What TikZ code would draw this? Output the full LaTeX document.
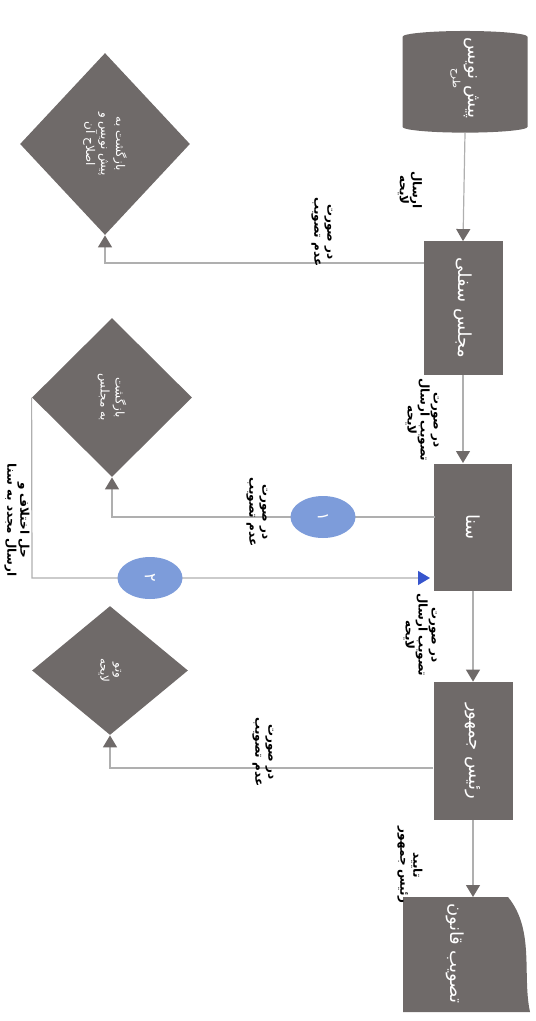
\documentclass[tikz,border=0pt]{standalone}
\usepackage{fontspec}
\usetikzlibrary{shapes,arrows.meta,positioning}
\newfontfamily\farsi[Script=Arabic]{DejaVu Sans}
\TeXXeTstate=1
\newcommand{\fa}[1]{{\farsi\beginR #1\endR}}
\definecolor{boxgray}{RGB}{111,106,105}
\definecolor{linegray}{RGB}{175,175,175}
\definecolor{ovalblue}{RGB}{125,156,218}
\definecolor{tipblue}{RGB}{55,85,205}
\tikzstyle{stage}=[rectangle,fill=boxgray,text=white,inner sep=1pt,font=\fontsize{9}{11}\selectfont]
\tikzstyle{store}=[cylinder,aspect=0.35,fill=boxgray,text=white,inner sep=1pt,align=center,font=\fontsize{9}{10}\selectfont]
\tikzstyle{check}=[diamond,fill=boxgray,text=white,inner sep=0pt,align=center,font=\fontsize{6}{7.5}\selectfont]
\tikzstyle{note}=[align=center,inner sep=0pt,font=\fontsize{6}{6.5}\selectfont\bfseries]
\tikzstyle{tag}=[ellipse,fill=ovalblue,text=white,inner sep=0pt,font=\fontsize{8}{8}\selectfont]
\tikzstyle{flow}=[draw=linegray,line width=0.6pt,-{Triangle[width=7pt,length=6pt,color=boxgray]}]
\tikzstyle{back}=[draw=linegray,line width=0.6pt,-{Triangle[width=7pt,length=6pt,color=tipblue]}]

\begin{document}
\begin{tikzpicture}[x=0.5pt,y=0.5pt,rotate=-90,transform shape]
  \useasboundingbox (0,0) rectangle (1021,535);

  % main line
  \node[store,minimum width=62.5pt,minimum height=50pt] (draft) at (78,465)
    {\fa{پیش نویس}\\[-2pt]{\fontsize{5}{5}\selectfont\fa{طرح}}};
  \node[stage,minimum width=66.5pt,minimum height=39.5pt] (lower) at (308,463) {\fa{مجلس سفلی}};
  \node[stage,minimum width=63.5pt,minimum height=39pt] (senate) at (527,473) {\fa{سنا}};
  \node[stage,minimum width=69pt,minimum height=39.5pt] (pres) at (751,473) {\fa{رئیس جمهور}};
  \fill[boxgray] (897,403) -- (897,508) .. controls (930,535) and (975,522) .. (1012,530)
    -- (1012,403) -- cycle;
  \node[stage,fill=none,minimum width=56.5pt,minimum height=52.5pt] (law) at (953.5,455.5) {\fa{تصویب قانون}};

  % decisions
  \node[check,minimum width=91pt,minimum height=85pt] (d1) at (144,105)
    {\fa{بازگشت به}\\\fa{پیش نویس و}\\\fa{اصلاح آن}};
  \node[check,minimum width=79.5pt,minimum height=80pt] (d2) at (397.5,112)
    {\fa{بازگشت}\\\fa{به مجلس}};
  \node[check,minimum width=64.5pt,minimum height=78pt] (d3) at (670.5,110)
    {\fa{وتو}\\\fa{لایحه}};

  % bends and free ends
  \foreach \name/\a/\b in {t2/463/463, t4/897/473, s1/263/424, k1/263/105,
                          s2/517/435, k2/517/112, s3/768/433, k3/768/110,
                          k4/578/32, s4/578/430}
    \coordinate (\name) at (\a,\b);

  \draw[flow] (draft.east) -- (lower.west);
  \draw[flow] (lower.east) -- (t2);
  \draw[flow] (senate.east) -- (pres.west);
  \draw[flow] (pres.east) -- (t4);

  \draw[flow] (s1) -- (k1) -- (d1.east);
  \draw[flow] (s2) -- (k2) -- (d2.east);
  \draw[flow] (s3) -- (k3) -- (d3.east);
  \draw[back] (d2.south) -- (k4) -- (s4);

  \node[tag,minimum width=21pt,minimum height=32.5pt] (one) at (517,323) {\fa{۱}};
  \node[tag,minimum width=21pt,minimum height=32.5pt] (two) at (578,150) {\fa{۲}};

  % labels
  \node[note] (n1) at (190,410) {\fa{ارسال}\\\fa{لایحه}};
  \node[note] (n2) at (420,422) {\fa{در صورت}\\\fa{تصویب ارسال}\\\fa{لایحه}};
  \node[note] (n3) at (635,420) {\fa{در صورت}\\\fa{تصویب ارسال}\\\fa{لایحه}};
  \node[note] (n4) at (865,410) {\fa{تایید}\\\fa{رئیس جمهور}};
  \foreach \name/\a/\b in {n5/232/322, n6/512/257, n7/752/263}
    \node[note] (\name) at (\a,\b) {\fa{در صورت}\\\fa{عدم تصویب}};
  \node[note] (n8) at (520,17) {\fa{حل اختلاف و}\\\fa{ارسال مجدد به سنا}};
\end{tikzpicture}
\end{document}
